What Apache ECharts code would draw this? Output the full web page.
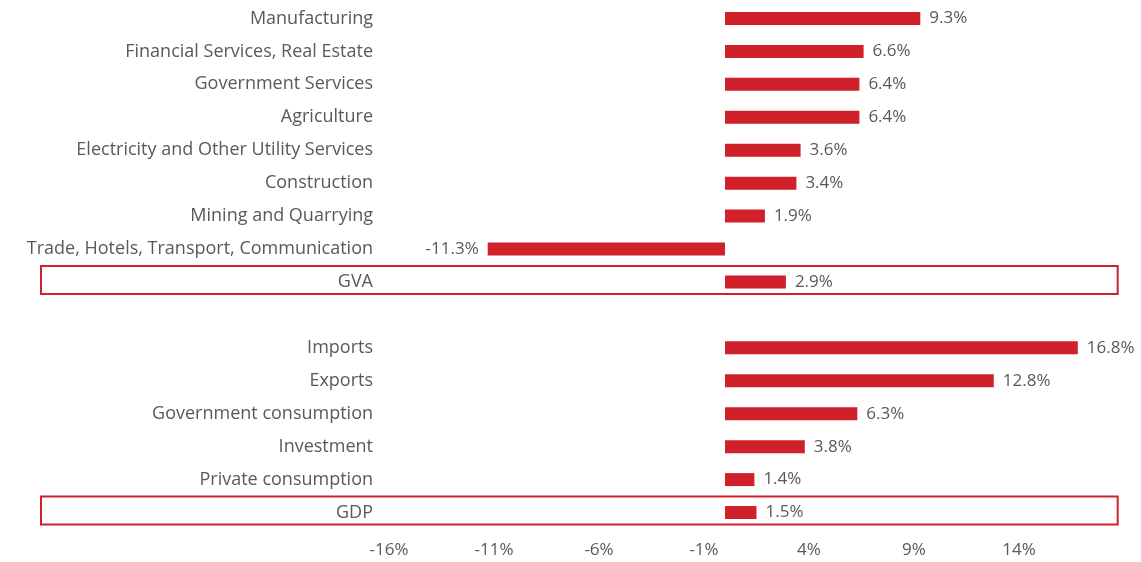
<!DOCTYPE html>
<html>
<head>
<meta charset="utf-8">
<script src="https://cdn.jsdelivr.net/npm/echarts@6/dist/echarts.min.js"></script>
<style>
  html, body { margin: 0; padding: 0; background: #fff; }
  #chart { width: 1141px; height: 562px; }
</style>
</head>
<body>
<div id="chart"></div>
<script>
  // rows top to bottom, '' is the blank gap between the two groups
  var categories = [
    'Manufacturing', 'Financial Services, Real Estate', 'Government Services', 'Agriculture',
    'Electricity and Other Utility Services', 'Construction', 'Mining and Quarrying',
    'Trade, Hotels, Transport, Communication', 'GVA', '',
    'Imports', 'Exports', 'Government consumption', 'Investment', 'Private consumption', 'GDP'
  ];
  var growth = [9.3, 6.6, 6.4, 6.4, 3.6, 3.4, 1.9, -11.3, 2.9, '-', 16.8, 12.8, 6.3, 3.8, 1.4, 1.5];
  var tickValues = [-16, -11, -6, -1, 4, 9, 14];
  var boxedRows = ['GVA', 'GDP'];

  var red = '#d0202a';
  var grey = '#595959';
  var font = '"Open Sans", sans-serif';

  var chart = echarts.init(document.getElementById('chart'));
  var option = {
    animation: false,
    grid: { left: 389, right: 17, top: 2, bottom: 33, containLabel: false },
    xAxis: {
      type: 'value',
      min: -16,
      max: 19,
      axisLine: { show: false },
      axisTick: { show: false },
      splitLine: { show: false },
      axisLabel: {
        customValues: tickValues,
        color: grey,
        fontSize: 17,
        fontFamily: font,
        margin: 13,
        formatter: function (v) { return v + '%'; }
      }
    },
    yAxis: {
      type: 'category',
      inverse: true,
      data: categories,
      axisLine: { show: false },
      axisTick: { show: false },
      axisLabel: { color: grey, fontSize: 18, fontFamily: font, margin: 16 }
    },
    series: [{
      type: 'bar',
      barWidth: 13,
      itemStyle: { color: red },
      label: {
        show: true,
        color: grey,
        fontSize: 17,
        fontFamily: font,
        distance: 9,
        position: 'right',
        formatter: function (p) { return p.value + '%'; }
      },
      // negative bars carry their label on the left
      data: growth.map(function (v) {
        if (typeof v === 'number' && v < 0) {
          return { value: v, label: { position: 'left' } };
        }
        return v;
      })
    }]
  };
  chart.setOption(option);

  // red outline boxes around the total rows
  var right = chart.convertToPixel({ xAxisIndex: 0 }, 18.7);
  var boxes = boxedRows.map(function (name) {
    var cy = chart.convertToPixel({ yAxisIndex: 0 }, name);
    return {
      type: 'rect',
      shape: { x: 41, y: cy - 16, width: right - 41, height: 28 },
      style: { fill: 'none', stroke: red, lineWidth: 2 },
      z: 10
    };
  });
  chart.setOption({ graphic: boxes });
</script>
</body>
</html>
